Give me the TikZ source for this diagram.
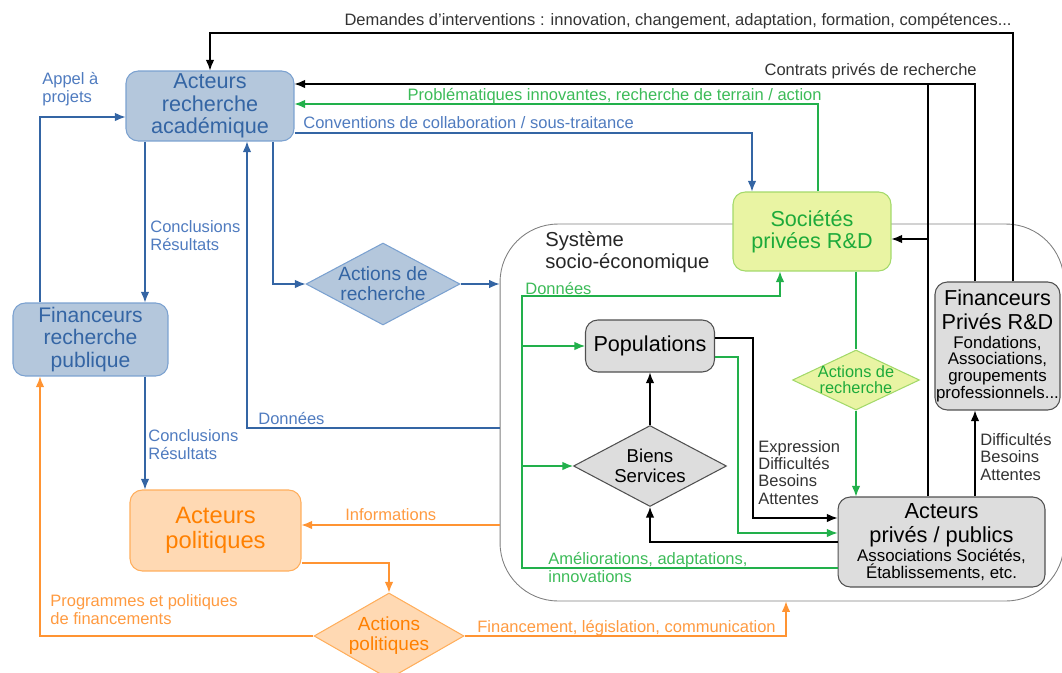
\documentclass[tikz,border=0pt]{standalone}
\usepackage{fontspec}
\setmainfont{Liberation Sans}
\usetikzlibrary{arrows.meta,shapes.geometric}

\definecolor{acadblue}{HTML}{3465A4}
\definecolor{acadfill}{HTML}{B4C7DC}
\definecolor{acadedge}{HTML}{7BA1D0}
\definecolor{bluenote}{HTML}{4F7BBF}
\definecolor{rdgreen}{HTML}{1DAA3A}
\definecolor{rdline}{HTML}{22B04B}
\definecolor{rdfill}{HTML}{E9F4A3}
\definecolor{rdedge}{HTML}{A3D96A}
\definecolor{greennote}{HTML}{3CBB58}
\definecolor{polorange}{HTML}{FF8000}
\definecolor{polline}{HTML}{FF9433}
\definecolor{polfill}{HTML}{FFD9B3}
\definecolor{poledge}{HTML}{FFAE5C}
\definecolor{orangenote}{HTML}{FF9A40}
\definecolor{socfill}{HTML}{DDDDDD}
\definecolor{socedge}{HTML}{505050}
\definecolor{inknote}{HTML}{333333}
\definecolor{sysedge}{HTML}{808080}

\newcommand{\subline}[1]{{\fontsize{9.6}{10}\selectfont #1}}

\begin{document}
\begin{tikzpicture}[x=0.02cm,y=-0.02cm,>={Latex[length=6pt,width=4.8pt]}]
		\useasboundingbox (0,0) rectangle (1062,673);
		\tikzstyle{box}=[rectangle, rounded corners=7pt, inner sep=0pt, line width=0.6pt, align=center, font=\fontsize{12.3}{12.7}\selectfont]
		\tikzstyle{acad box}=[box, fill=acadfill, draw=acadedge, text=acadblue]
		\tikzstyle{pol box}=[box, fill=polfill, draw=poledge, text=polorange, font=\fontsize{13.5}{14.2}\selectfont]
		\tikzstyle{rd box}=[box, fill=rdfill, draw=rdedge, text=rdgreen]
		\tikzstyle{soc box}=[box, fill=socfill, draw=socedge, text=black]
		\tikzstyle{choice}=[diamond, inner sep=0pt, line width=0.6pt]
		\tikzstyle{choice text}=[inner sep=0pt, align=center]
		\tikzstyle{link}=[line width=0.65pt]
		\tikzstyle{blue link}=[link, draw=acadblue]
		\tikzstyle{green link}=[link, draw=rdline]
		\tikzstyle{orange link}=[link, draw=polline]
		\tikzstyle{ink link}=[link, draw=black]
		\tikzstyle{note}=[inner sep=0pt, align=left, font=\fontsize{9.4}{9.7}\selectfont]
		\tikzstyle{blue note}=[note, text=bluenote]
		\tikzstyle{green note}=[note, text=greennote]
		\tikzstyle{orange note}=[note, text=orangenote]
		\tikzstyle{ink note}=[note, text=inknote]

		% public side
		\node [acad box, minimum width=3.36cm, minimum height=1.4cm] (acad) at (210,106) {Acteurs\\recherche\\académique};
		\node [acad box, minimum width=3.1cm, minimum height=1.46cm, font=\fontsize{12}{13}\selectfont] (finpub) at (90.5,339.5) {Financeurs\\recherche\\publique};
		\node [choice, fill=acadfill, draw=acadedge, minimum width=3.08cm, minimum height=1.64cm,
			label={[choice text, text=acadblue, font=\fontsize{10.9}{11.3}\selectfont]center:Actions de\\recherche}] (actrech) at (383,284) {};
		\node [pol box, minimum width=3.42cm, minimum height=1.62cm] (acpol) at (215.5,530.5) {Acteurs\\politiques};
		\node [choice, fill=polfill, draw=poledge, minimum width=3.0cm, minimum height=1.72cm,
			label={[choice text, text=polorange, font=\fontsize{10.8}{11.3}\selectfont]center:Actions\\politiques}] (actpol) at (389,636) {};

		% socio-economic system
		\node [draw=sysedge, line width=0.5pt, rounded corners=1.16cm, minimum width=11.28cm, minimum height=7.54cm, inner sep=0pt] (sys) at (782,412.5) {};
		\node [anchor=north west, inner sep=0pt, align=left, font=\fontsize{11.5}{12.5}\selectfont, text=black!85] (syslabel) at (545,231) {Système\\socio-économique};
		\node [rd box, minimum width=3.16cm, minimum height=1.58cm] (soc) at (812,231.5) {Sociétés\\privées R\&D};
		\node [soc box, minimum width=2.58cm, minimum height=1.04cm] (pop) at (650,346) {Populations};
		\node [choice, fill=socfill, draw=socedge, minimum width=3.06cm, minimum height=1.62cm,
			label={[choice text, font=\fontsize{10.6}{11}\selectfont]center:Biens\\Services}] (biens) at (650,466) {};
		\node [choice, fill=rdfill, draw=rdedge, minimum width=2.54cm, minimum height=1.2cm,
			label={[choice text, text=rdgreen, font=\fontsize{9.3}{9.1}\selectfont]center:Actions de\\recherche}] (actrech2) at (856,380) {};
		\node [soc box, minimum width=4.14cm, minimum height=1.8cm, font=\fontsize{12.4}{13.6}\selectfont] (actpriv) at (941.5,542)
			{Acteurs\\privés / publics\\[-2.8pt]\subline{Associations Sociétés,}\\[-4pt]\subline{Établissements, etc.}};
		\node [soc box, minimum width=2.5cm, minimum height=2.56cm, font=\fontsize{12.3}{13.6}\selectfont] (finpriv) at (997.5,346)
			{Financeurs\\Privés R\&D\\[-3pt]\subline{Fondations,}\\[-4pt]\subline{Associations,}\\[-4pt]\subline{groupements}\\[-4pt]\subline{professionnels...}};

		% black links
		\draw [ink link,->] (finpriv.north -| 1013,0) -- (1013,33) -| (acad.north);
		\draw [ink link,->] (finpriv.north -| 975,0) |- (acad.east |- 0,84);
		\draw [ink link] (actpriv.north -| 928,0) -- (928,84);
		\draw [ink link,->] (928,239) -- (soc.east |- 0,239);
		\draw [ink link,->] (actpriv.north -| 975,0) -- (finpriv.south -| 975,0);
		\draw [ink link,->] (pop.east |- 0,338) -| (753,518) -- (actpriv.west |- 0,518);
		\draw [ink link,->] (actpriv.west |- 0,542) -| (biens.south);
		\draw [ink link,->] (biens.north) -- (pop.south);

		% green links
		\draw [green link,->] (soc.north -| 818,0) |- (acad.east |- 0,104);
		\draw [green link,->] (actpriv.west |- 0,568) -| (522,296) -| (soc.south -| 780,0);
		\draw [green link,->] (522,346) -- (pop.west);
		\draw [green link,->] (522,466) -- (biens.west);
		\draw [green link,->] (pop.east |- 0,357) -| (738,533) -- (actpriv.west |- 0,533);
		\draw [green link] (soc.south -| actrech2.north) -- (actrech2.north);
		\draw [green link,->] (actrech2.south) -- (actpriv.north -| actrech2.south);

		% blue links
		\draw [blue link,->] (acad.east |- 0,133) -| (soc.north -| 752,0);
		\draw [blue link,->] (acad.south -| 145,0) -- (finpub.north -| 145,0);
		\draw [blue link,->] (finpub.north -| 40,0) |- (acad.west |- 0,117);
		\draw [blue link,->] (acad.south -| 273,0) |- (actrech.west);
		\draw [blue link,->] (actrech.east) -- (sys.west |- actrech.east);
		\draw [blue link,->] (sys.west |- 0,428) -| (acad.south -| 247,0);
		\draw [blue link,->] (finpub.south -| 145,0) -- (acpol.north -| 145,0);

		% orange links
		\draw [orange link,->] (sys.west |- 0,525) -- (acpol.east |- 0,525);
		\draw [orange link,->] (acpol.east |- 0,563) -| (actpol.north);
		\draw [orange link,->] (actpol.west) -| (finpub.south -| 40,0);
		\draw [orange link,->] (actpol.east) -| (sys.south -| 786,0);

		% labels (multi-line ones sit on their last line)
		\node [ink note, anchor=base east] (demandlabel) at (1012,25) {Demandes d’interventions : innovation, changement, adaptation, formation, compétences...};
		\node [ink note, anchor=base east] (contractlabel) at (977,75) {Contrats privés de recherche};
		\node [green note, anchor=base east] (problabel) at (822,100) {Problématiques innovantes, recherche de terrain / action};
		\node [blue note, anchor=base west] (convlabel) at (303,128) {Conventions de collaboration / sous-traitance};
		\node [blue note, anchor=base west] (appellabel) at (42,102) {Appel à\\projets};
		\node [blue note, anchor=base west] (conclabel) at (150,250) {Conclusions\\Résultats};
		\node [blue note, anchor=base west] (datalabel) at (258,424) {Données};
		\node [blue note, anchor=base west] (conclabel2) at (148,459) {Conclusions\\Résultats};
		\node [orange note, anchor=base west] (infolabel) at (345,520) {Informations};
		\node [orange note, anchor=base west] (proglabel) at (50,624) {Programmes et politiques\\de financements};
		\node [orange note, anchor=base west] (finlabel) at (477,632) {Financement, législation, communication};
		\node [green note, anchor=base west] (datalabel2) at (525,294) {Données};
		\node [green note, anchor=base west] (amelabel) at (548,582) {Améliorations, adaptations,\\innovations};
		\node [ink note, anchor=base west] (exprlabel) at (758,504) {Expression\\Difficultés\\Besoins\\Attentes};
		\node [ink note, anchor=base west] (difflabel) at (980,480) {Difficultés\\Besoins\\Attentes};
	\end{tikzpicture}
\end{document}
